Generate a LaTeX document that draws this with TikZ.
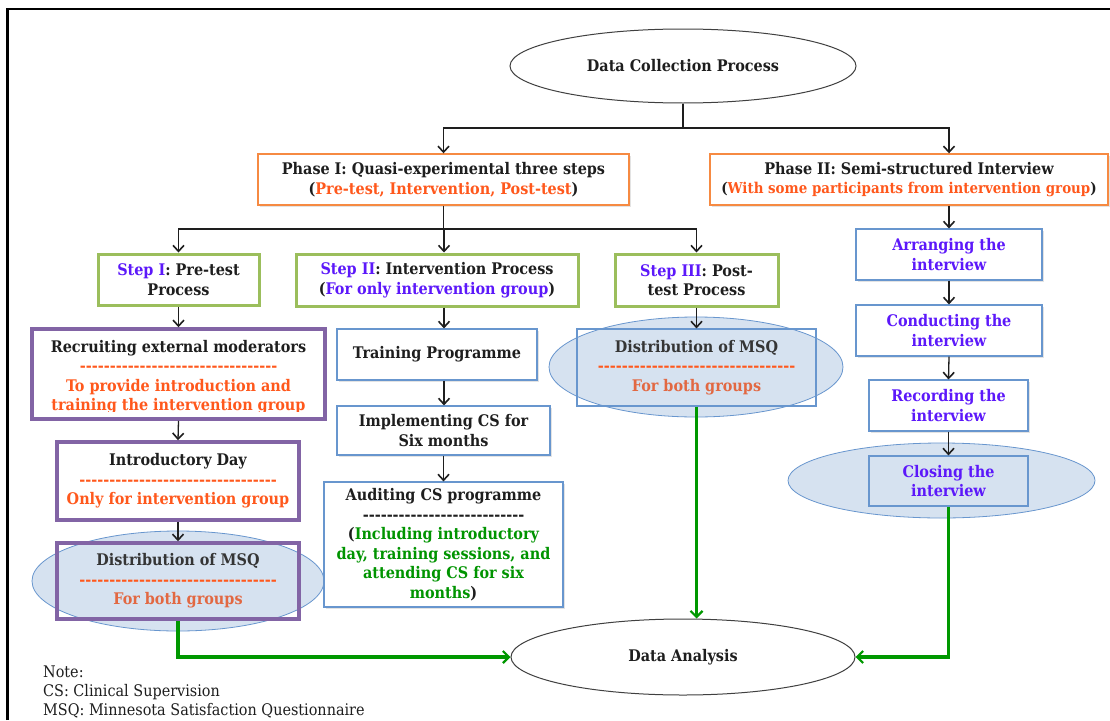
\documentclass[tikz,border=0pt]{standalone}
\usepackage{fontspec}
\setmainfont{DejaVu Serif Condensed}
\usetikzlibrary{shapes.geometric,arrows.meta,shadows}

\definecolor{ink}{RGB}{30,30,30}
\definecolor{orB}{RGB}{246,138,66}
\definecolor{orT}{RGB}{255,88,28}
\definecolor{orM}{RGB}{226,104,66}
\definecolor{grB}{RGB}{155,190,92}
\definecolor{vio}{RGB}{92,24,250}
\definecolor{puB}{RGB}{130,100,165}
\definecolor{blB}{RGB}{104,150,206}
\definecolor{elF}{RGB}{214,226,240}
\definecolor{grA}{RGB}{0,152,0}
\definecolor{grT}{RGB}{0,148,0}

% a row of separate hyphens (no dash ligatures)
\newcommand\dashrow[1]{\foreach \k in {1,...,#1}{-}}

\tikzset{
  every node/.style={inner sep=0pt, align=center, text=ink,
    font=\bfseries\fontsize{16}{19.5}\selectfont},
  boxshadow/.style={drop shadow={opacity=0.22, shadow xshift=1.6pt, shadow yshift=-1.6pt}},
  phasebox/.style={rectangle, draw=orB, line width=1.4pt, fill=white, boxshadow},
  stepbox/.style={rectangle, draw=grB, line width=3pt, fill=white, boxshadow},
  purplebox/.style={rectangle, draw=puB, line width=3.5pt, fill=white, boxshadow},
  purpleframe/.style={rectangle, draw=puB, line width=3.5pt},
  bluebox/.style={rectangle, draw=blB, line width=1.1pt, fill=white, boxshadow},
  blueframe/.style={rectangle, draw=blB, line width=1.1pt},
  cloud/.style={ellipse, draw=blB, line width=0.8pt, fill=elF},
  oval/.style={ellipse, draw=ink!85, line width=1pt, fill=white},
  conn/.style={draw=ink, line width=1.3pt,
    -{Straight Barb[length=6pt,width=11pt,line width=1.6pt]}},
  plain/.style={draw=ink, line width=1.3pt},
  gconn/.style={draw=grA, line width=3.4pt,
    -{Straight Barb[length=6pt,width=12pt,line width=2.2pt]}},
}

\begin{document}
\begin{tikzpicture}[x=1pt,y=-1pt]
\useasboundingbox (0,0) rectangle (1110,720);
\fill[white] (0,0) rectangle (1110,720);

% outer frame
\draw[black, line width=2.2pt] (7.5,720) -- (7.5,9) -- (1110,9);

% top and bottom ovals
\node[oval, minimum width=346pt, minimum height=74pt] (dc) at (683,66) {Data Collection Process};
\node[oval, minimum width=344pt, minimum height=76pt] (da) at (683,657) {Data Analysis};

% phases
\node[phasebox, minimum width=371pt, minimum height=51pt] (p1) at (443.5,179.5)
  {Phase I: Quasi-experimental three steps\\
   {\fontsize{16}{19.5}\selectfont(\textcolor{orT}{Pre-test, Intervention, Post-test})}};
\node[phasebox, minimum width=398pt, minimum height=51pt] (p2) at (909,179.5)
  {Phase II: Semi-structured Interview\\
   {\fontsize{14.9}{19.5}\selectfont(\textcolor{orT}{With some participants from intervention group})}};

% steps
\node[stepbox, minimum width=161pt, minimum height=51pt] (s1) at (178.5,279.5)
  {\textcolor{vio}{Step I}: Pre-test\\Process};
\node[stepbox, minimum width=282pt, minimum height=52pt] (s2) at (437,280)
  {\textcolor{vio}{Step II}: Intervention Process\\(\textcolor{vio}{For only intervention group})};
\node[stepbox, minimum width=163pt, minimum height=52pt] (s3) at (696.5,280)
  {\textcolor{vio}{Step III}: Post-\\test Process};

% pre-test column
\node[purplebox, minimum width=293pt, minimum height=90pt] (rec) at (178.5,374) {};
\begin{scope}
  \clip (rec.north west) rectangle ([yshift=9.5pt]rec.south east);
  \node (rectext) at (178.5,377)
    {Recruiting external moderators\\
     \color{orT}\dashrow{33}\\
     \color{orT}To provide introduction and\\
     \color{orT}training the intervention group};
\end{scope}
\node[purplebox, minimum width=242pt, minimum height=78pt] (intro) at (178,481)
  {Introductory Day\\
   \color{orT}\dashrow{33}\\
   \color{orT}Only for intervention group};
\node[cloud, minimum width=292pt, minimum height=100pt] (m1e) at (178,581) {};
\node[purpleframe, minimum width=242pt, minimum height=76pt] (m1) at (178,581)
  {\color{ink!90}Distribution of MSQ\\
   \color{orT}\dashrow{33}\\
   \color{orM}For both groups};

% intervention column
\node[bluebox, minimum width=200pt, minimum height=51pt] (tr) at (437,354.5) {Training Programme};
\node[bluebox, minimum width=213pt, minimum height=49pt] (imp) at (443.5,430.5)
  {Implementing CS for\\Six months};
\node[bluebox, minimum width=239pt, minimum height=125pt] (aud) at (443.5,544.5)
  {Auditing CS programme\\
   \dashrow{27}\\
   (\textcolor{grT}{Including introductory}\\
   \textcolor{grT}{day, training sessions, and}\\
   \textcolor{grT}{attending CS for six}\\
   \textcolor{grT}{months})};

% post-test column
\node[cloud, minimum width=294pt, minimum height=100pt] (m3e) at (696,367) {};
\node[blueframe, minimum width=239pt, minimum height=77pt] (m3) at (696.5,367.5)
  {\color{ink!90}Distribution of MSQ\\
   \color{orT}\dashrow{33}\\
   \color{orM}For both groups};

% interview column
\node[bluebox, minimum width=186pt, minimum height=51pt, text=vio] (arr) at (949,254.5) {Arranging the\\interview};
\node[bluebox, minimum width=186pt, minimum height=51pt, text=vio] (con) at (949,330.5) {Conducting the\\interview};
\node[bluebox, minimum width=159pt, minimum height=51pt, text=vio] (rcd) at (948.5,405.5) {Recording the\\interview};
\node[cloud, minimum width=307pt, minimum height=75pt] (cle) at (941.5,480.5) {};
\node[blueframe, minimum width=159pt, minimum height=50pt, text=vio] (cl) at (948.5,481) {Closing the\\interview};

% note
\node[anchor=west, align=left, font=\fontsize{16}{19}\selectfont] (note) at (43,692)
  {Note:\\CS: Clinical Supervision\\MSQ: Minnesota Satisfaction Questionnaire};

% black connectors
\coordinate (j1) at (683,128);
\draw[plain] (dc.south) -- (j1);
\draw[conn] (j1) -| (p1.north);
\draw[conn] (j1) -| ([xshift=40pt]p2.north);

\coordinate (j2) at (443.5,229);
\draw[plain] (p1.south) -- (j2);
\draw[conn] (j2) -| (s1.north);
\draw[conn] (j2) -| ([xshift=7pt]s2.north);
\draw[conn] (j2) -| (s3.north);

\draw[conn] (s1.south) -- (rec.north);
\draw[conn] (rec.south) -- (intro.north);
\draw[conn] (intro.south) -- (m1.north);

\draw[conn] ([xshift=7pt]s2.south) -- ([xshift=7pt]tr.north);
\draw[conn] ([xshift=7pt]tr.south) -- ([xshift=0.5pt]imp.north);
\draw[conn] (imp.south) -- (aud.north);

\draw[conn] (s3.south) -- (m3.north);

\draw[conn] ([xshift=40pt]p2.south) -- (arr.north);
\draw[conn] (arr.south) -- (con.north);
\draw[conn] (con.south) -- (rcd.north);
\draw[conn] (rcd.south) -- (cl.north);

% green connectors into the analysis
\draw[gconn] (m1.south) |- (da.west);
\draw[gconn] (m3.south) -- (m3.south |- da.north);
\draw[gconn] (cl.south) |- (da.east);
\end{tikzpicture}
\end{document}
